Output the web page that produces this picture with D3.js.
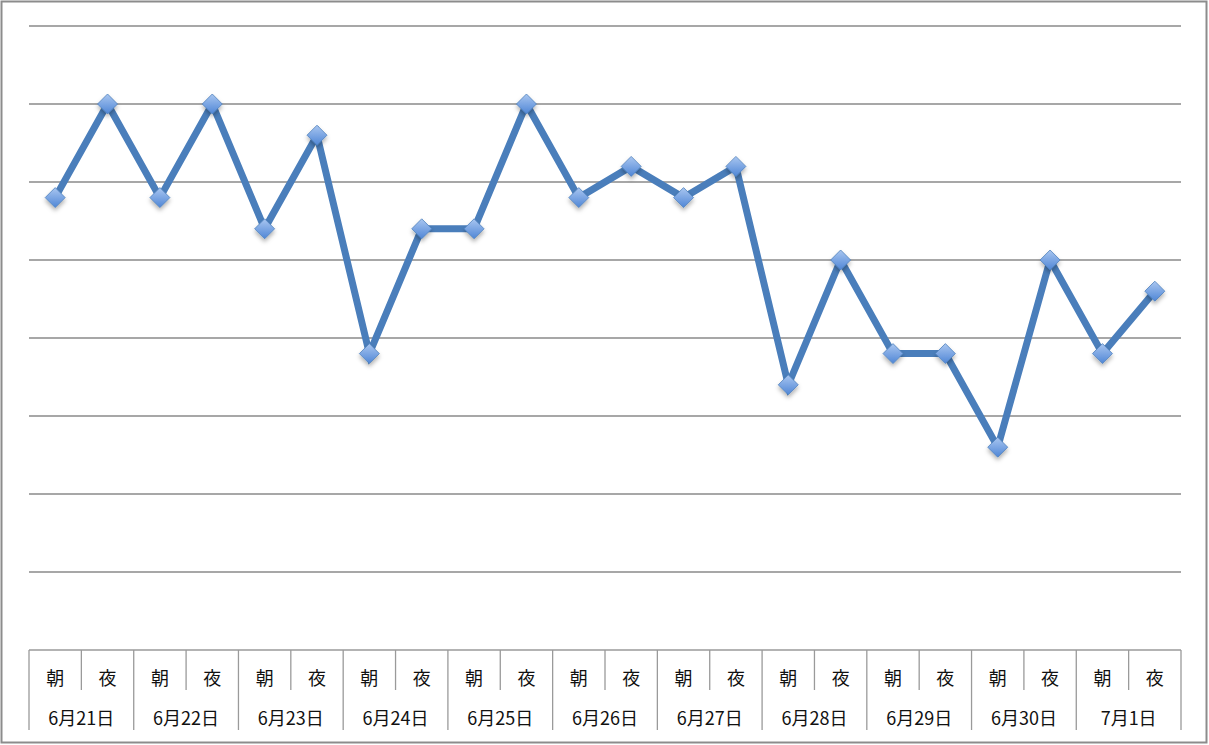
<!DOCTYPE html>
<html><head><meta charset="utf-8">
<script src="https://cdn.jsdelivr.net/npm/d3@7"></script>
<style>body{margin:0;background:#fff}svg{display:block}</style>
</head><body>
<svg id="c" width="1209" height="745"></svg>
<script>
const dates = ["6月21日","6月22日","6月23日","6月24日","6月25日","6月26日","6月27日","6月28日","6月29日","6月30日","7月1日"];
const periods = ["朝","夜"];
const values = [5.8,7.0,5.8,7.0,5.4,6.6,3.8,5.4,5.4,7.0,5.8,6.2,5.8,6.2,3.4,5.0,3.8,3.8,2.6,5.0,3.8,4.6];
const yTicks = [0,1,2,3,4,5,6,7,8];

const svg = d3.select("#c");
const L = 29, R = 1181, T = 26, B = 650;
const cats = d3.range(values.length);
const x = d3.scaleBand().domain(cats).range([L, R]);
const y = d3.scaleLinear().domain([0, 8]).range([B, T]);

// outer frame
svg.append("rect").attr("x",1.5).attr("y",1.5).attr("width",1205).attr("height",741)
  .attr("fill","none").attr("stroke","#8c8c8c").attr("stroke-width",2);

const defs = svg.append("defs");
const g = defs.append("linearGradient").attr("id","mk").attr("x1","0").attr("y1","0").attr("x2","0").attr("y2","1");
g.append("stop").attr("offset","0").attr("stop-color","#a9c6f0");
g.append("stop").attr("offset","1").attr("stop-color","#4f86d6");
const f = defs.append("filter").attr("id","sh").attr("x","-50%").attr("y","-50%").attr("width","200%").attr("height","200%");
f.append("feDropShadow").attr("dx",0).attr("dy",3).attr("stdDeviation",2).attr("flood-color","#000").attr("flood-opacity",0.3);

// gridlines
svg.append("g").selectAll("line").data(yTicks.filter(d=>d>0)).join("line")
  .attr("x1",L).attr("x2",R).attr("y1",d=>y(d)).attr("y2",d=>y(d))
  .attr("stroke","#8a8a8a").attr("stroke-width",1.5);

// axis table
const ax = svg.append("g").attr("stroke","#9a9a9a").attr("stroke-width",1.3);
ax.append("line").attr("x1",L).attr("x2",R).attr("y1",B).attr("y2",B);
const bw = x.bandwidth();
cats.forEach(i=>{
  const xs = x(i);
  const long = i % 2 === 0;
  ax.append("line").attr("x1",xs).attr("x2",xs).attr("y1",B).attr("y2", long ? 730 : 690);
});
ax.append("line").attr("x1",R).attr("x2",R).attr("y1",B).attr("y2",730);

const tx = svg.append("g").attr("font-family","'Noto Sans CJK JP', sans-serif").attr("font-size",18).attr("fill","#111").attr("text-anchor","middle");
tx.selectAll("text.p").data(cats).join("text").attr("class","p")
  .attr("x",i=>x(i)+bw/2).attr("y",685).text(i=>periods[i%2]);
tx.selectAll("text.d").data(dates).join("text").attr("class","d")
  .attr("x",(d,j)=>x(j*2)+bw).attr("y",725).text(d=>d);

// line
const line = d3.line().x((d,i)=>x(i)+bw/2).y(d=>y(d));
svg.append("path").datum(values).attr("d",line).attr("fill","none")
  .attr("stroke","#4a7ebb").attr("stroke-width",7).attr("stroke-linejoin","miter");

// markers
svg.append("g").selectAll("path").data(values).join("path")
  .attr("transform",(d,i)=>`translate(${x(i)+bw/2},${y(d)})`)
  .attr("d","M0,-10L10,0L0,10L-10,0Z")
  .attr("fill","url(#mk)").attr("stroke","#4f81bd").attr("stroke-width",0.8)
  .attr("filter","url(#sh)");
</script>
</body></html>
